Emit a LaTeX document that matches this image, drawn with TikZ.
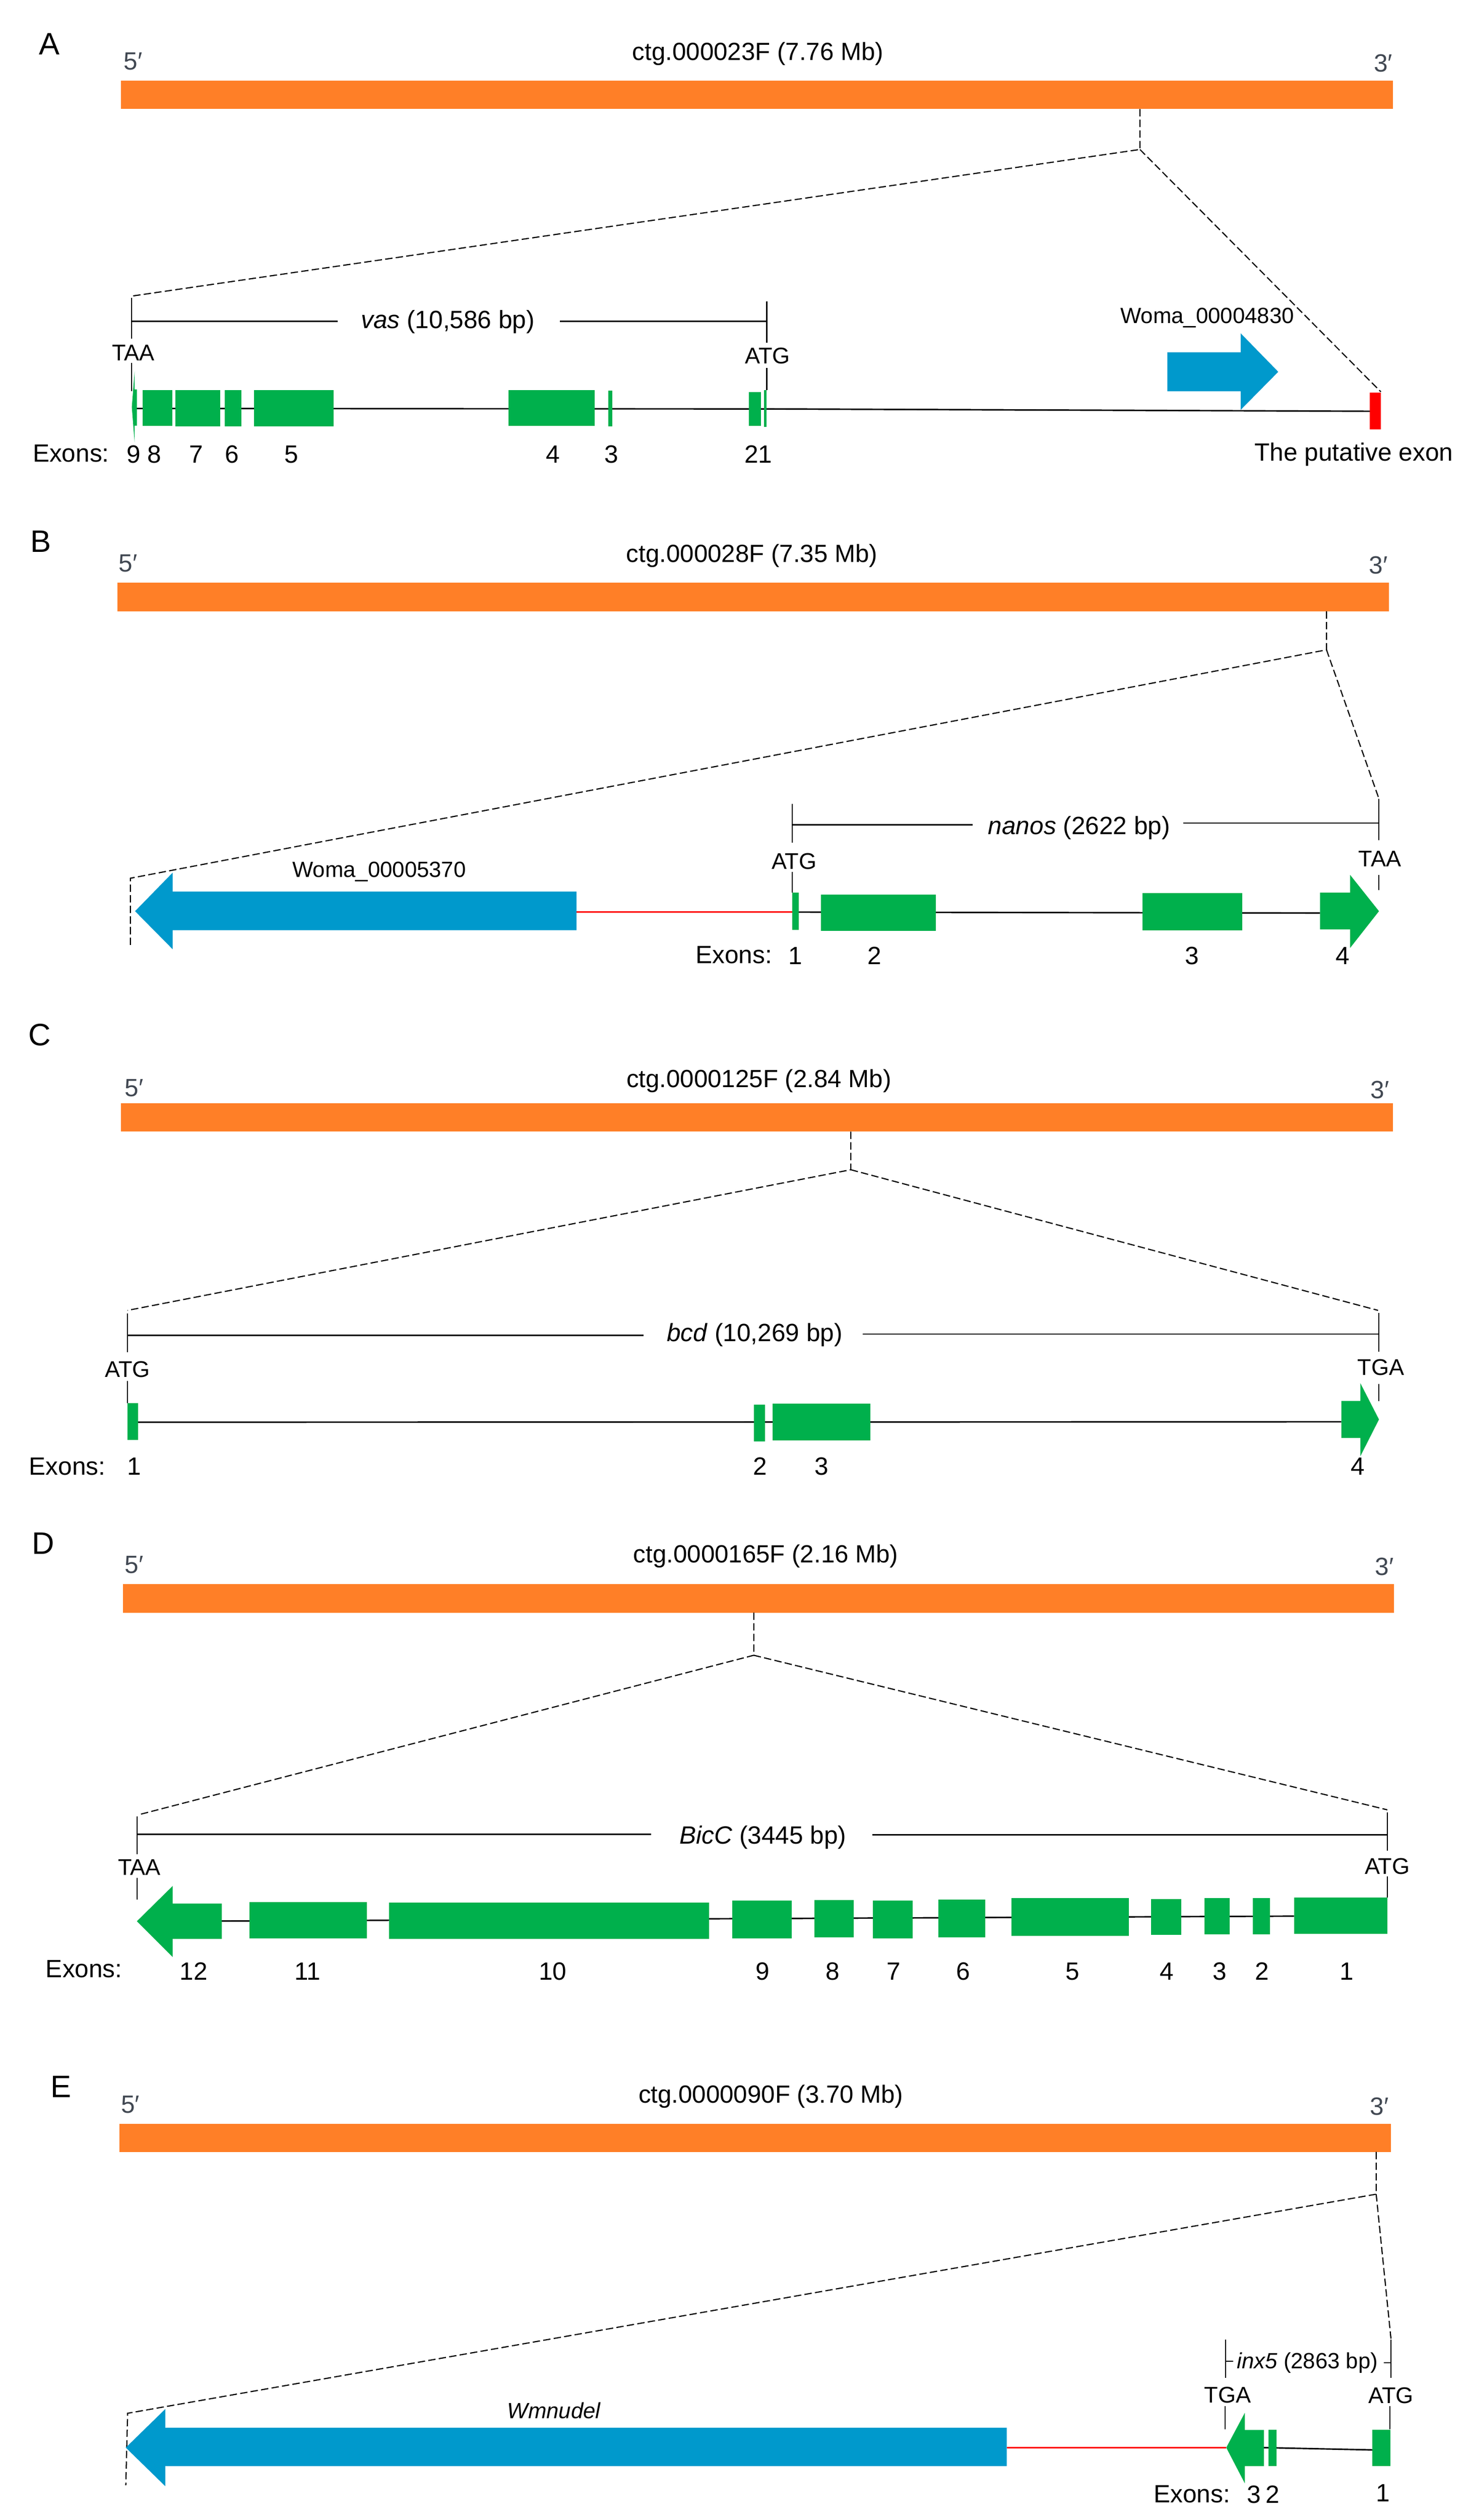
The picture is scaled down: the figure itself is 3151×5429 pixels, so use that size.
\documentclass[tikz,border=0pt]{standalone}
\usepackage{fontspec}
\setmainfont{Liberation Sans}
\definecolor{orangebar}{RGB}{255,127,39}
\definecolor{exongreen}{RGB}{0,176,76}
\definecolor{geneblue}{RGB}{0,153,204}
\definecolor{primegrey}{RGB}{65,72,82}
\newcommand\fLetter{\fontsize{19pt}{22pt}\selectfont}
\newcommand\fTitle{\fontsize{15.2pt}{18pt}\selectfont}
\newcommand\fLab{\fontsize{15.3pt}{18pt}\selectfont}
\newcommand\fCodon{\fontsize{13.9pt}{16pt}\selectfont}
\newcommand\fGene{\fontsize{13.5pt}{16pt}\selectfont}
\begin{document}
\begin{tikzpicture}[x=0.01cm,y=-0.01cm,
  lbl/.style={anchor=base,inner sep=0pt,outer sep=0pt},
  letter/.style={lbl,font=\fLetter},
  title/.style={lbl,font=\fTitle},
  prime/.style={lbl,font=\fLab,text=primegrey},
  codon/.style={lbl,font=\fCodon},
  genelbl/.style={lbl,font=\fGene},
  exlbl/.style={lbl,font=\fLab},
  spanlbl/.style={lbl,font=\fLab},
  contig/.style={fill=orangebar},
  exon/.style={fill=exongreen},
  other/.style={fill=geneblue},
  bb/.style={line width=0.9pt},
  tickline/.style={line width=0.65pt},
  spanline/.style={line width=0.8pt},
  zoomline/.style={line width=0.7pt,dash pattern=on 4.5pt off 2pt},
  redline/.style={line width=0.9pt,draw=red}]

\fill[white] (0,0) rectangle (3151,5429);
\useasboundingbox (0,0) rectangle (3151,5429);

%================ Panel A ================
\node[letter] (aLet) at (106,118) {A};
\node[prime] (a5) at (287,150) {5\char"2032};
\node[prime] (a3) at (2980,155) {3\char"2032};
\node[title] (aTitle) at (1633,130) {ctg.000023F (7.76 Mb)};
\fill[contig] (261,174) rectangle (3001,235);
\coordinate (aTop) at (2456,235);
\coordinate (aApex) at (2456,322);
\coordinate (aL) at (283,638);
\coordinate (aR) at (2975,844);
\draw[zoomline] (aTop) -- (aApex) -- (aL);
\draw[zoomline] (aApex) -- (aR);
% span
\coordinate (aT1) at (283,642); \coordinate (aT2) at (283,730);
\coordinate (aT3) at (283,782); \coordinate (aT4) at (283,843);
\coordinate (aG1) at (1652,649); \coordinate (aG2) at (1652,738);
\coordinate (aG3) at (1652,793); \coordinate (aG4) at (1652,840);
\draw[tickline] (aT1) -- (aT2) (aT3) -- (aT4) (aG1) -- (aG2) (aG3) -- (aG4);
\node[spanlbl] (aSpan) at (965,707) {\textit{vas} (10,586 bp)};
\coordinate (aS1) at (283,692); \coordinate (aS2) at (728,692);
\coordinate (aS3) at (1206,692); \coordinate (aS4) at (1652,692);
\draw[spanline] (aS1) -- (aS2) (aS3) -- (aS4);
\node[codon] (aTAA) at (287,777) {TAA};
\node[codon] (aATG) at (1654,783) {ATG};
% backbone
\coordinate (aB0) at (290,880); \coordinate (aB1) at (1652,881); \coordinate (aB2) at (2951,886);
\draw[bb] (aB0) -- (aB1) -- (aB2);
% exons
\fill[exon] (284,877) -- (290,800) -- (290,839) -- (295,839) -- (295,917) -- (290,917) -- (290,953) -- cycle;
\fill[exon] (307,840) rectangle (371,918);
\fill[exon] (378,840) rectangle (475,919);
\fill[exon] (484,840) rectangle (520,919);
\fill[exon] (547,840) rectangle (719,919);
\fill[exon] (1096,840) rectangle (1281,918);
\fill[exon] (1311,841) rectangle (1319,919);
\fill[exon] (1614,845) rectangle (1640,918);
\fill[exon] (1646,840) rectangle (1652,920);
% Woma_00004830
\fill[other] (2515,759) -- (2673,759) -- (2673,718) -- (2754,801) -- (2673,883) -- (2673,843) -- (2515,843) -- cycle;
\node[genelbl] (aWoma) at (2601,697) {Woma\_00004830};
\fill[red] (2951,846) rectangle (2975,925);
\node[exlbl] (aPut) at (2917,993) {The putative exon};
\node[exlbl] (aExons) at (153,995) {Exons:};
\foreach \n/\x in {9/288,8/333,7/423,6/500,5/628,4/1191,3/1317,2/1619,1/1648}
  \node[exlbl] (aEx\n) at (\x,997) {\n};

%================ Panel B ================
\node[letter] (bLet) at (88,1190) {B};
\node[prime] (b5) at (276,1232) {5\char"2032};
\node[prime] (b3) at (2970,1236) {3\char"2032};
\node[title] (bTitle) at (1620,1211) {ctg.000028F (7.35 Mb)};
\fill[contig] (253,1255) rectangle (2992,1317);
\coordinate (bTop) at (2858,1317);
\coordinate (bApex) at (2858,1400);
\coordinate (bL) at (281,1892);
\coordinate (bLb) at (281,2042);
\coordinate (bR) at (2971,1721);
\draw[zoomline] (bTop) -- (bApex) -- (bL) -- (bLb);
\draw[zoomline] (bApex) -- (bR);
% Woma_00005370
\fill[other] (291,1963) -- (372,1880) -- (372,1921) -- (1242,1921) -- (1242,2004) -- (372,2004) -- (372,2045) -- cycle;
\node[genelbl] (bWoma) at (817,1890) {Woma\_00005370};
\coordinate (bR1) at (1242,1965); \coordinate (bR2) at (1707,1965);
\draw[redline] (bR1) -- (bR2);
% span
\coordinate (bG1) at (1707,1732); \coordinate (bG2) at (1707,1815);
\coordinate (bG3) at (1707,1878); \coordinate (bG4) at (1707,1923);
\coordinate (bT1) at (2971,1721); \coordinate (bT2) at (2971,1810);
\coordinate (bT3) at (2971,1885); \coordinate (bT4) at (2971,1918);
\draw[tickline] (bG1) -- (bG2) (bG3) -- (bG4) (bT1) -- (bT2) (bT3) -- (bT4);
\node[spanlbl] (bSpan) at (2325,1797) {\textit{nanos} (2622 bp)};
\coordinate (bS1) at (1707,1777); \coordinate (bS2) at (2096,1777);
\coordinate (bS3) at (2549,1773); \coordinate (bS4) at (2971,1773);
\draw[spanline] (bS1) -- (bS2) (bS3) -- (bS4);
\node[codon] (bATG) at (1711,1872) {ATG};
\node[codon] (bTAA) at (2973,1867) {TAA};
% backbone
\coordinate (bB1) at (1721,1965); \coordinate (bB2) at (2844,1967);
\draw[bb] (bB1) -- (bB2);
\fill[exon] (1707,1923) rectangle (1721,2003);
\fill[exon] (1769,1927) rectangle (2016,2005);
\fill[exon] (2462,1924) rectangle (2677,2004);
\fill[exon] (2844,1923) -- (2909,1923) -- (2909,1885) -- (2971,1963) -- (2909,2042) -- (2909,2002) -- (2844,2002) -- cycle;
\node[exlbl] (bExons) at (1581,2075) {Exons:};
\foreach \n/\x in {1/1714,2/1884,3/2568,4/2893}
  \node[exlbl] (bEx\n) at (\x,2078) {\n};

%================ Panel C ================
\node[letter] (cLet) at (86,2253) {C};
\node[prime] (c5) at (289,2362) {5\char"2032};
\node[prime] (c3) at (2973,2366) {3\char"2032};
\node[title] (cTitle) at (1635,2343) {ctg.0000125F (2.84 Mb)};
\fill[contig] (261,2377) rectangle (3001,2438);
\coordinate (cTop) at (1833,2438);
\coordinate (cApex) at (1833,2520);
\coordinate (cL) at (275,2823);
\coordinate (cR) at (2969,2823);
\draw[zoomline] (cTop) -- (cApex) -- (cL);
\draw[zoomline] (cApex) -- (cR);
\coordinate (cG1) at (275,2830); \coordinate (cG2) at (275,2913);
\coordinate (cG3) at (275,2975); \coordinate (cG4) at (275,3023);
\coordinate (cT1) at (2971,2828); \coordinate (cT2) at (2971,2912);
\coordinate (cT3) at (2971,2982); \coordinate (cT4) at (2971,3018);
\draw[tickline] (cG1) -- (cG2) (cG3) -- (cG4) (cT1) -- (cT2) (cT3) -- (cT4);
\node[spanlbl] (cSpan) at (1626,2890) {\textit{bcd} (10,269 bp)};
\coordinate (cS1) at (275,2877); \coordinate (cS2) at (1387,2877);
\coordinate (cS3) at (1859,2874); \coordinate (cS4) at (2971,2874);
\draw[spanline] (cS1) -- (cS2) (cS3) -- (cS4);
\node[codon] (cATG) at (275,2967) {ATG};
\node[codon] (cTGA) at (2975,2963) {TGA};
\coordinate (cB1) at (297,3064); \coordinate (cB2) at (2890,3063);
\draw[bb] (cB1) -- (cB2);
\fill[exon] (275,3023) rectangle (297,3102);
\fill[exon] (1624,3026) rectangle (1648,3105);
\fill[exon] (1664,3024) rectangle (1875,3103);
\fill[exon] (2890,3018) -- (2931,3018) -- (2931,2980) -- (2971,3058) -- (2931,3137) -- (2931,3098) -- (2890,3098) -- cycle;
\node[exlbl] (cExons) at (145,3178) {Exons:};
\foreach \n/\x in {1/289,2/1638,3/1770,4/2925}
  \node[exlbl] (cEx\n) at (\x,3178) {\n};

%================ Panel D ================
\node[letter] (dLet) at (93,3348) {D};
\node[prime] (d5) at (289,3389) {5\char"2032};
\node[prime] (d3) at (2983,3394) {3\char"2032};
\node[title] (dTitle) at (1650,3367) {ctg.0000165F (2.16 Mb)};
\fill[contig] (265,3413) rectangle (3003,3474);
\coordinate (dTop) at (1624,3474);
\coordinate (dApex) at (1624,3566);
\coordinate (dL) at (297,3910);
\coordinate (dR) at (2989,3899);
\draw[zoomline] (dTop) -- (dApex) -- (dL);
\draw[zoomline] (dApex) -- (dR);
\coordinate (dT1) at (295,3913); \coordinate (dT2) at (295,3995);
\coordinate (dT3) at (295,4046); \coordinate (dT4) at (295,4092);
\coordinate (dG1) at (2989,3904); \coordinate (dG2) at (2989,3987);
\coordinate (dG3) at (2989,4042); \coordinate (dG4) at (2989,4088);
\draw[tickline] (dT1) -- (dT2) (dT3) -- (dT4) (dG1) -- (dG2) (dG3) -- (dG4);
\node[spanlbl] (dSpan) at (1644,3972) {\textit{BicC} (3445 bp)};
\coordinate (dS1) at (295,3952); \coordinate (dS2) at (1403,3952);
\coordinate (dS3) at (1879,3953); \coordinate (dS4) at (2989,3953);
\draw[spanline] (dS1) -- (dS2) (dS3) -- (dS4);
\node[codon] (dTAA) at (300,4040) {TAA};
\node[codon] (dATG) at (2989,4037) {ATG};
\coordinate (dB1) at (372,4139); \coordinate (dB2) at (2788,4128);
\draw[bb] (dB1) -- (dB2);
\fill[exon] (295,4139) -- (372,4063) -- (372,4101) -- (478,4101) -- (478,4177) -- (372,4177) -- (372,4216) -- cycle;
\fill[exon] (537,4098) rectangle (790,4176);
\fill[exon] (838,4099) rectangle (1528,4177);
\fill[exon] (1578,4095) rectangle (1706,4176);
\fill[exon] (1755,4093) rectangle (1839,4174);
\fill[exon] (1881,4095) rectangle (1966,4176);
\fill[exon] (2022,4092) rectangle (2123,4174);
\fill[exon] (2179,4089) rectangle (2432,4170);
\fill[exon] (2480,4091) rectangle (2545,4168);
\fill[exon] (2595,4089) rectangle (2649,4167);
\fill[exon] (2699,4089) rectangle (2736,4167);
\fill[exon] (2788,4088) rectangle (2989,4166);
\node[exlbl] (dExons) at (181,4260) {Exons:};
\foreach \n/\x in {12/417,11/663,10/1191,9/1643,8/1794,7/1925,6/2075,5/2311,4/2514,3/2628,2/2719,1/2902}
  \node[exlbl] (dEx\n) at (\x,4265) {\n};

%================ Panel E ================
\node[letter] (eLet) at (131,4518) {E};
\node[prime] (e5) at (281,4552) {5\char"2032};
\node[prime] (e3) at (2972,4556) {3\char"2032};
\node[title] (eTitle) at (1661,4530) {ctg.0000090F (3.70 Mb)};
\fill[contig] (257,4575) rectangle (2997,4636);
\coordinate (eTop) at (2965,4636);
\coordinate (eApex) at (2965,4727);
\coordinate (eL) at (275,5199);
\coordinate (eLb) at (271,5354);
\coordinate (eR) at (2997,5040);
\draw[zoomline] (eTop) -- (eApex) -- (eL) -- (eLb);
\draw[zoomline] (eApex) -- (eR);
% Wmnudel
\fill[other] (271,5273) -- (356,5190) -- (356,5230) -- (2169,5230) -- (2169,5313) -- (356,5313) -- (356,5356) -- cycle;
\node[genelbl] (eWm) at (1194,5210) {\textit{Wmnudel}};
\coordinate (eR1) at (2169,5273); \coordinate (eR2) at (2642,5273);
\draw[redline] (eR1) -- (eR2);
% inx5 span
\coordinate (eT1) at (2641,5040); \coordinate (eT2) at (2641,5123);
\coordinate (eG1) at (2997,5040); \coordinate (eG2) at (2997,5123);
\coordinate (eT3) at (2640,5184); \coordinate (eT4) at (2640,5234);
\coordinate (eG3) at (2995,5183); \coordinate (eG4) at (2995,5233);
\draw[tickline] (eT1) -- (eT2) (eG1) -- (eG2) (eT3) -- (eT4) (eG3) -- (eG4);
\coordinate (eS1) at (2641,5087); \coordinate (eS2) at (2657,5087);
\coordinate (eS3) at (2982,5090); \coordinate (eS4) at (2997,5090);
\draw[tickline] (eS1) -- (eS2) (eS3) -- (eS4);
\node[genelbl] (eSpan) at (2817,5103) {\textit{inx5} (2863 bp)};
\node[codon] (eTGA) at (2645,5177) {TGA};
\node[codon] (eATG) at (2997,5178) {ATG};
\coordinate (eB1) at (2723,5273); \coordinate (eB2) at (2957,5278);
\draw[bb] (eB1) -- (eB2);
\fill[exon] (2642,5273) -- (2682,5198) -- (2682,5235) -- (2723,5235) -- (2723,5313) -- (2682,5313) -- (2682,5350) -- cycle;
\fill[exon] (2733,5235) rectangle (2750,5313);
\fill[exon] (2957,5235) rectangle (2996,5313);
\node[exlbl] (eExons) at (2568,5391) {Exons:};
\node[exlbl] (eEx3) at (2702,5393) {3};
\node[exlbl] (eEx2) at (2742,5393) {2};
\node[exlbl] (eEx1) at (2980,5389) {1};
\end{tikzpicture}
\end{document}
